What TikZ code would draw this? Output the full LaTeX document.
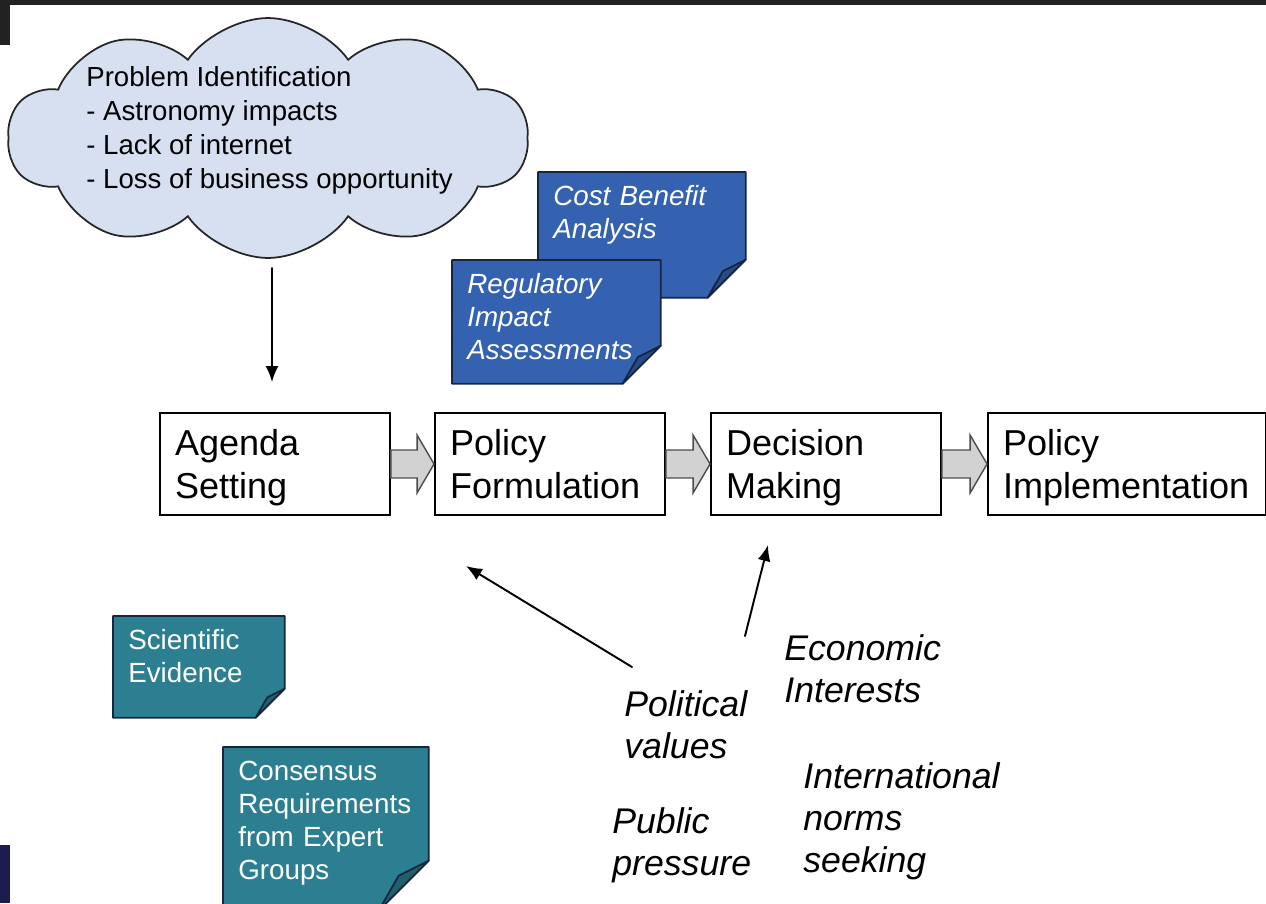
\documentclass[tikz,border=0pt]{standalone}
\usepackage{fontspec}
\setmainfont{Liberation Sans}
\usetikzlibrary{shapes.symbols, arrows.meta, calc, backgrounds}

\definecolor{cloudblue}{RGB}{214,224,240}
\definecolor{noteblue}{RGB}{52,98,176}
\definecolor{noteteal}{RGB}{44,127,145}
\definecolor{noteedge}{RGB}{22,38,66}
\definecolor{pipegray}{RGB}{210,210,210}
\definecolor{screendark}{RGB}{34,34,34}

\tikzset{
  stage/.style={draw, line width=1.1pt, text width=4cm, inner xsep=0.3cm, inner ysep=0.2cm, text height=0.64cm, text depth=1cm, align=left, font=\fontsize{20.5}{25}\selectfont},
  note/.style={anchor=north west, text=white, text width=#1, inner xsep=0.3cm, inner ysep=0.2cm, text height=0.46cm, align=left, font=\fontsize{15.8}{18.8}\selectfont},
  notebody/.style={draw=noteedge, line width=1pt, line join=round},
  force/.style={anchor=north west, inner sep=0pt, align=left, font=\fontsize{20.3}{24}\selectfont\itshape},
  pipe/.style={draw=black!70, fill=pipegray, line width=0.8pt, line join=miter},
  flow/.style={-{Latex[length=0.32cm, width=0.26cm]}, line width=1.1pt},
}

\begin{document}
\begin{tikzpicture}[x=0.02cm, y=-0.02cm, line cap=round]
  \useasboundingbox (0,0) rectangle (1266,903);
  \fill[screendark] (0,0) rectangle (1266,5);
  \fill[screendark] (0,0) rectangle (10,45);
  \fill[screendark!80!blue] (0,845) rectangle (10,903);

  \node[cloud, cloud puffs=10, cloud puff arc=110, cloud ignores aspect, draw=black!85, fill=cloudblue, line width=1pt, minimum width=10.4cm, minimum height=4.8cm] (problem) at (268,138) {};
  \node[anchor=north west, inner sep=0pt, align=left, font=\fontsize{15.7}{19.3}\selectfont] (problemtext) at (86,66) {Problem Identification\\- Astronomy impacts\\- Lack of internet\\- Loss of business opportunity};

  \node[stage] (agenda) at (275,464) {Agenda\\Setting};
  \node[stage] (form) at (550,464) {Policy\\Formulation};
  \node[stage] (decide) at (826,464) {Decision\\Making};
  \node[stage, text width=4.96cm] (impl) at (1127,464) {Policy\\Implementation};

  \foreach \a/\b in {agenda/form, form/decide, decide/impl}
    \draw[pipe] ($(\a.east)+(0,-14)$) -- ($(\b.west)+(-17,-14)$) -- ($(\b.west)+(-17,-29)$) -- (\b.west) -- ($(\b.west)+(-17,29)$) -- ($(\b.west)+(-17,14)$) -- ($(\a.east)+(0,14)$) -- cycle;

  \coordinate (cloudfoot) at (272,268);
  \draw[flow, shorten >=0.6cm] (cloudfoot) -- (cloudfoot |- agenda.north);

  \node[note=3.54cm, text depth=1.64cm, font=\fontsize{15.8}{18.8}\selectfont\itshape] (cba) at (538,172) {Cost Benefit\\Analysis};
  \node[note=3.56cm, text depth=1.60cm, font=\fontsize{15.8}{18.8}\selectfont\itshape] (ria) at (452,260) {Regulatory\\Impact\\Assessments};
  \node[note=2.82cm, text depth=1.16cm] (sci) at (113,616) {Scientific\\Evidence};
  \node[note=3.50cm, text depth=2.40cm] (cons) at (223,747) {Consensus\\Requirements\\from Expert\\Groups};

  % note sheets with a folded corner, kept behind their text
  \begin{scope}[on background layer]
    \foreach \n/\c/\f in {cba/noteblue/38, ria/noteblue/38, sci/noteteal/29, cons/noteteal/50} {
      \filldraw[notebody, fill=\c] (\n.north west) -- (\n.north east) -- ($(\n.south east)+(0,-\f)$) -- ($(\n.south east)+(-\f,0)$) -- (\n.south west) -- cycle;
      \filldraw[notebody, fill=\c!75!black] ($(\n.south east)+(0,-\f)$) -- ($(\n.south east)+(-0.6*\f,-0.7*\f)$) -- ($(\n.south east)+(-\f,0)$) -- cycle;
    }
  \end{scope}

  \node[force] (political) at (624,690) {Political\\values};
  \node[force] (economic) at (784,634) {Economic\\Interests};
  \node[force] (intl) at (803,762) {International\\norms\\seeking};
  \node[force] (public) at (612,807) {Public\\pressure};

  \coordinate (polfrom) at (632,667);
  \coordinate (toform) at (466,566);
  \coordinate (econfrom) at (745,636);
  \coordinate (todecide) at (768,545);
  \draw[flow] (polfrom) -- (toform);
  \draw[flow] (econfrom) -- (todecide);
\end{tikzpicture}
\end{document}
